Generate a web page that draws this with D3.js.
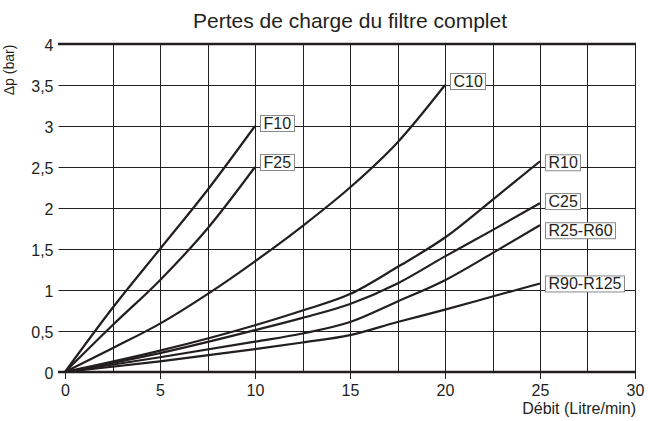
<!DOCTYPE html>
<html>
<head>
<meta charset="utf-8">
<script src="https://cdn.jsdelivr.net/npm/d3@7"></script>
<style>
  body { margin: 0; background: #fff; }
  text { font-family: "Liberation Sans", Arial, sans-serif; fill: #231f20; }
</style>
</head>
<body>
<div id="chart"></div>
<script>
// values
const xTicks = [0, 5, 10, 15, 20, 25, 30];
const yTicks = [0, 0.5, 1, 1.5, 2, 2.5, 3, 3.5, 4];

const flowF = [0, 2.5, 5, 7.5, 10];
const dpF10 = [0, 0.78, 1.5, 2.22, 3.0];
const dpF25 = [0, 0.57, 1.12, 1.75, 2.5];

const flowC10 = [0, 2.5, 5, 7.5, 10, 12.5, 15, 17.5, 20];
const dpC10 = [0, 0.29, 0.59, 0.95, 1.35, 1.78, 2.25, 2.8, 3.5];

const flowR = [0, 5, 10, 12.5, 15, 17.5, 20, 22.5, 25];
const dpR10 = [0, 0.26, 0.57, 0.75, 0.95, 1.28, 1.64, 2.1, 2.57];
const dpC25 = [0, 0.23, 0.51, 0.66, 0.83, 1.08, 1.41, 1.73, 2.06];
const dpR25 = [0, 0.18, 0.37, 0.47, 0.61, 0.86, 1.12, 1.45, 1.79];
const dpR90 = [0, 0.13, 0.28, 0.36, 0.45, 0.61, 0.76, 0.92, 1.08];

const names = ['F10', 'F25', 'C10', 'R10', 'C25', 'R25-R60', 'R90-R125'];
const flows = [flowF, flowF, flowC10, flowR, flowR, flowR, flowR];
const dps = [dpF10, dpF25, dpC10, dpR10, dpC25, dpR25, dpR90];
// small vertical nudges of the label boxes
const labelDy = [-3, -5, -4, 1, -2, 5, 0];

const width = 648, height = 421;
const margin = { top: 44, right: 13, bottom: 49, left: 65 };
const ink = '#231f20';

const svg = d3.select('#chart').append('svg')
  .attr('width', width)
  .attr('height', height);

const x = d3.scaleLinear().domain([0, 30]).range([margin.left, width - margin.right]);
const y = d3.scaleLinear().domain([0, 4]).range([height - margin.bottom, margin.top]);

// grid
const grid = svg.append('g').attr('stroke', ink).attr('stroke-width', 1);
grid.selectAll('line.v')
  .data(d3.range(2.5, 30.1, 2.5))
  .enter().append('line')
  .attr('x1', d => Math.round(x(d)) + 0.5)
  .attr('x2', d => Math.round(x(d)) + 0.5)
  .attr('y1', y(4))
  .attr('y2', y(0));
grid.selectAll('line.h')
  .data(yTicks.slice(1, -1))
  .enter().append('line')
  .attr('x1', x(0))
  .attr('x2', x(30))
  .attr('y1', d => Math.round(y(d)) + 0.5)
  .attr('y2', d => Math.round(y(d)) + 0.5);

// axes
const yAxis = d3.axisLeft(y)
  .tickValues(yTicks)
  .tickSize(7)
  .tickPadding(5)
  .tickFormat(d => String(d).replace('.', ','));
const gy = svg.append('g')
  .attr('transform', `translate(${Math.round(x(0)) + 0.5},0)`)
  .call(yAxis);

const xAxis = d3.axisBottom(x)
  .tickValues(xTicks)
  .tickSize(7)
  .tickPadding(5);
const gx = svg.append('g')
  .attr('transform', `translate(0,${y(0)})`)
  .call(xAxis);

[gx, gy].forEach(g => {
  g.select('.domain').remove();
  g.selectAll('line').attr('stroke', ink);
  g.selectAll('text')
    .style('font-size', '16px')
    .style('font-family', '"Liberation Sans", Arial, sans-serif')
    .attr('fill', ink);
});
gy.selectAll('text').attr('dy', '0.4em');
gx.selectAll('text').attr('dy', '0.75em');

// thick top and bottom borders
svg.append('line')
  .attr('x1', x(0) - 7).attr('x2', x(30) + 1)
  .attr('y1', y(4)).attr('y2', y(4))
  .attr('stroke', ink).attr('stroke-width', 2.6);
svg.append('line')
  .attr('x1', x(0) - 7).attr('x2', x(30) + 1)
  .attr('y1', y(0)).attr('y2', y(0))
  .attr('stroke', ink).attr('stroke-width', 2.6);

// curves
const line = d3.line()
  .x(d => x(d[0]))
  .y(d => y(d[1]))
  .curve(d3.curveMonotoneX);

const series = names.map((name, i) => ({
  name,
  points: flows[i].map((f, j) => [f, dps[i][j]]),
  dy: labelDy[i]
}));

svg.append('g').selectAll('path')
  .data(series)
  .enter().append('path')
  .attr('d', d => line(d.points))
  .attr('fill', 'none')
  .attr('stroke', ink)
  .attr('stroke-width', 2.2)
  .attr('stroke-linejoin', 'round');

// label boxes at line ends
const labels = svg.append('g').selectAll('g')
  .data(series)
  .enter().append('g')
  .attr('transform', d => {
    const last = d.points[d.points.length - 1];
    return `translate(${x(last[0]) + 5},${y(last[1]) + d.dy})`;
  });

labels.append('text')
  .attr('x', 3.5)
  .attr('dy', '0.37em')
  .style('font-size', '16px')
  .text(d => d.name)
  .each(function (d) { d.w = this.getComputedTextLength(); });

labels.insert('rect', 'text')
  .attr('x', 0.5)
  .attr('y', -7.5)
  .attr('width', d => Math.round(d.w) + 6)
  .attr('height', 16)
  .attr('fill', '#fff')
  .attr('stroke', '#8a8a8a')
  .attr('stroke-width', 1);

// titles
svg.append('text')
  .attr('x', (x(0) + x(30)) / 2)
  .attr('y', 28)
  .attr('text-anchor', 'middle')
  .style('font-size', '21px')
  .text('Pertes de charge du filtre complet');

svg.append('text')
  .attr('transform', 'translate(14,70) rotate(-90)')
  .attr('text-anchor', 'middle')
  .style('font-size', '14px')
  .text('Δp (bar)');

svg.append('text')
  .attr('x', x(30) + 1)
  .attr('y', 414)
  .attr('text-anchor', 'end')
  .style('font-size', '16px')
  .text('Débit (Litre/min)');
</script>
</body>
</html>
